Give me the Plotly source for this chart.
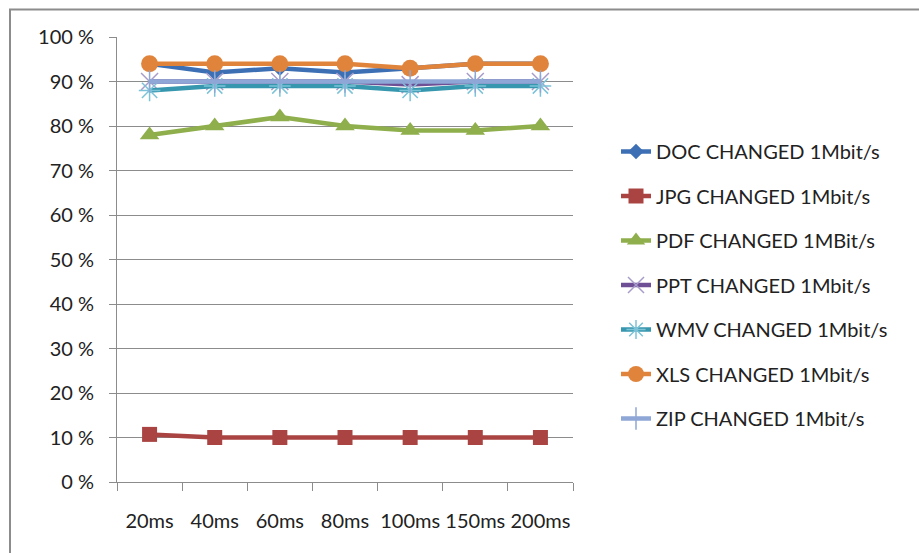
import plotly.graph_objects as go

categories = ["20ms", "40ms", "60ms", "80ms", "100ms", "150ms", "200ms"]
doc = [94, 92, 93, 92, 93, 94, 94]
jpg = [10.7, 10, 10, 10, 10, 10, 10]
pdf = [78, 80, 82, 80, 79, 79, 80]
ppt = [90, 90, 90, 90, 89.3, 90, 90]
wmv = [88, 89, 89, 89, 88, 89, 89]
xls = [94, 94, 94, 94, 93, 94, 94]
zip_ = [90, 90, 90, 90, 90, 90, 90]
y_ticks = [0, 10, 20, 30, 40, 50, 60, 70, 80, 90, 100]
y_labels = [f"{v} %" for v in y_ticks]

series = [
    ("DOC CHANGED 1Mbit/s", doc, "#3D6FB5", "diamond", 12, None),
    ("JPG CHANGED 1Mbit/s", jpg, "#A94442", "square", 15, None),
    ("PDF CHANGED 1MBit/s", pdf, "#8FAE4C", "triangle-up", 17, None),
    ("PPT CHANGED 1Mbit/s", ppt, "#6E4E94", "x-thin", 17, "#A89CCB"),
    ("WMV CHANGED 1Mbit/s", wmv, "#3797AE", "asterisk", 18, "#7CC3D8"),
    ("XLS CHANGED 1Mbit/s", xls, "#E0843C", "circle", 17, None),
    ("ZIP CHANGED 1Mbit/s", zip_, "#8EA7D6", "line-ns", 16, "#8EA7D6"),
]

fig = go.Figure()
for i, (name, vals, color, sym, size, mcol) in enumerate(series):
    marker = dict(symbol=sym, size=size, color=color)
    if mcol is not None:
        marker["line"] = dict(color=mcol, width=1.5)
    fig.add_trace(go.Scatter(
        x=categories, y=vals, name=name, mode="lines+markers",
        line=dict(color=color, width=4.5), marker=marker,
        legendgroup=f"g{i}",
    ))

L, T, R, B = 117, 37, 573, 482
W, H = 919, 553
pw, ph = R - L, B - T

fig.update_layout(
    width=W, height=H,
    margin=dict(l=L, r=W - R, t=T, b=H - B),
    plot_bgcolor="white", paper_bgcolor="white",
    font=dict(family="Lato", size=20, color="#222"),
    showlegend=True,
    legend=dict(
        xref="container", yref="container",
        x=616 / W, y=1 - 132 / H, xanchor="left", yanchor="top",
        tracegroupgap=15.5, font=dict(size=20),
        bgcolor="rgba(0,0,0,0)", maxheight=420,
    ),
    xaxis=dict(
        type="category", range=[-0.5, 6.5], automargin=False,
        showline=True, linecolor="#8c8c8c", linewidth=1,
        ticks="outside", tickson="boundaries", ticklen=8, tickcolor="#8c8c8c",
        showgrid=False, ticklabelstandoff=21, zeroline=False,
        tickangle=0, tickfont=dict(size=20),
    ),
    yaxis=dict(
        range=[0, 100], tickvals=y_ticks, ticktext=y_labels, automargin=False,
        showline=True, linecolor="#8c8c8c", linewidth=1,
        ticks="outside", ticklen=7, tickcolor="#8c8c8c",
        showgrid=True, gridcolor="#8c8c8c", gridwidth=1, zeroline=False,
        ticklabelstandoff=11,
    ),
    shapes=[dict(
        type="rect", xref="paper", yref="paper",
        x0=(10 - L) / pw, x1=(960 - L) / pw,
        y0=(B - 600) / ph, y1=(B - 9.5) / ph,
        line=dict(color="#8c8c8c", width=2), layer="below",
    )],
)

fig.write_html("out.html")
